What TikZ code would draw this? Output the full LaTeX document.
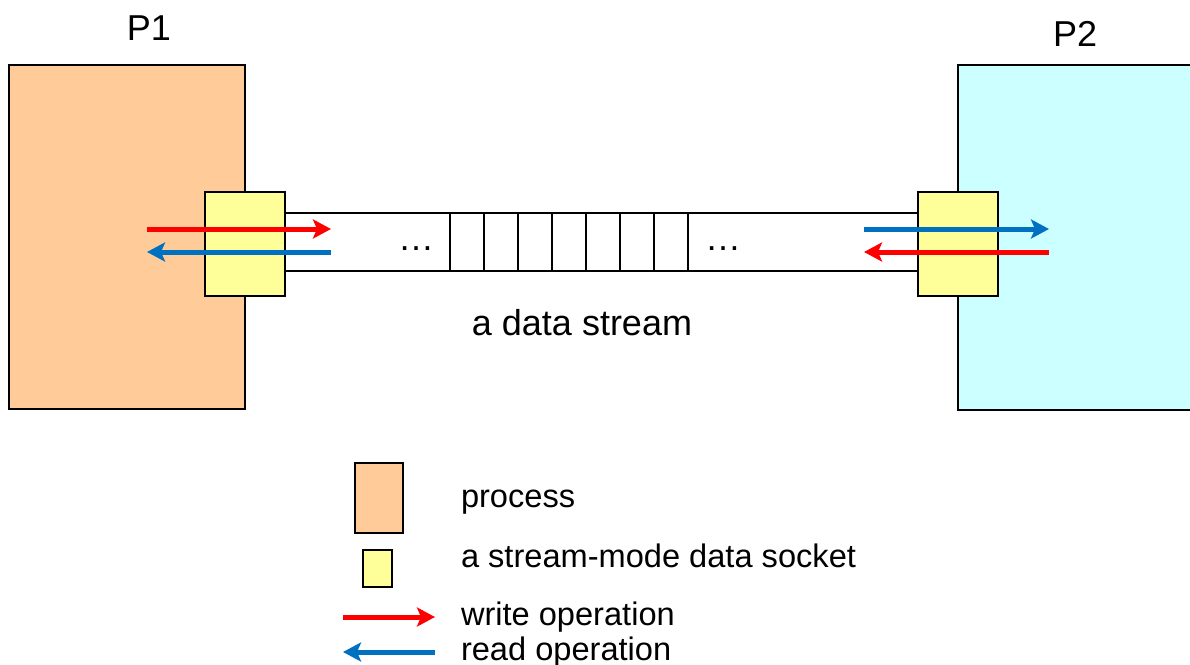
\documentclass[tikz,border=0pt]{standalone}
\usepackage{fontspec}
\setmainfont{Liberation Sans}
\usetikzlibrary{arrows.meta}
\definecolor{procorange}{RGB}{255,204,153}
\definecolor{proccyan}{RGB}{204,255,255}
\definecolor{sockyellow}{RGB}{255,255,153}
\definecolor{readblue}{RGB}{0,112,192}
\begin{document}
\begin{tikzpicture}[
    x=1pt, y=-1pt,
    every node/.style={inner sep=0pt, outer sep=0pt},
    process/.style={rectangle, draw, line width=2pt},
    socket/.style={rectangle, draw, line width=2pt, fill=sockyellow, minimum width=80pt, minimum height=104pt},
    cell/.style={rectangle, draw, line width=2pt, minimum width=34pt, minimum height=58pt},
    big/.style={font=\fontsize{36}{40}\selectfont},
    small/.style={font=\fontsize{32.6}{37}\selectfont},
    wop/.style={draw=red, line width=5pt, -{Stealth[length=18pt, width=19pt, inset=4pt]}},
    rop/.style={draw=readblue, line width=5pt, -{Stealth[length=18pt, width=19pt, inset=4pt]}}
]
\useasboundingbox (0,0) rectangle (1190,664);

% the two processes
\node[process, fill=procorange, minimum width=236pt, minimum height=344pt] (p1) at (127,237) {};
\node[process, fill=proccyan, minimum width=238pt, minimum height=345pt] (p2) at (1077,237) {};
\node[big, anchor=base] (p1lab) at (149,40) {P1};
\node[big, anchor=base] (p2lab) at (1075,46) {P2};

% the stream between them
\node[rectangle, draw, line width=2pt, fill=white, minimum width=680pt, minimum height=58pt] (stream) at (601,242) {};
\foreach \i in {0,...,6}
    \node[cell] (c\i) at (467+34*\i,242) {};
\node[big, anchor=base] (dotsl) at (416,250) {\ldots};
\node[big, anchor=base] (dotsr) at (723,250) {\ldots};
\node[big, anchor=base] (streamlab) at (582,335) {a data stream};

% sockets
\node[socket] (s1) at (245,244) {};
\node[socket] (s2) at (958,244) {};

% operations
\coordinate (w1a) at (147,229);
\coordinate (w1b) at (331,229);
\coordinate (r1a) at (331,252);
\coordinate (r1b) at (147,252);
\coordinate (r2a) at (864,229);
\coordinate (r2b) at (1049,229);
\coordinate (w2a) at (1049,252);
\coordinate (w2b) at (864,252);
\draw[wop] (w1a) -- (w1b);
\draw[rop] (r1a) -- (r1b);
\draw[rop] (r2a) -- (r2b);
\draw[wop] (w2a) -- (w2b);

% legend
\node[process, fill=procorange, minimum width=48pt, minimum height=70pt] (lgproc) at (379,498) {};
\node[socket, minimum width=29pt, minimum height=37pt] (lgsock) at (377.5,568.5) {};
\coordinate (lgwa) at (343,617);
\coordinate (lgwb) at (435,617);
\coordinate (lgra) at (435,652);
\coordinate (lgrb) at (343,652);
\draw[wop] (lgwa) -- (lgwb);
\draw[rop] (lgra) -- (lgrb);
\node[small, anchor=base west] (lgproctxt) at (461,507) {process};
\node[small, anchor=base west] (lgsocktxt) at (461,567) {a stream-mode data socket};
\node[small, anchor=base west] (lgwtxt) at (461,625) {write operation};
\node[small, anchor=base west] (lgrtxt) at (461,660) {read operation};
\end{tikzpicture}
\end{document}
